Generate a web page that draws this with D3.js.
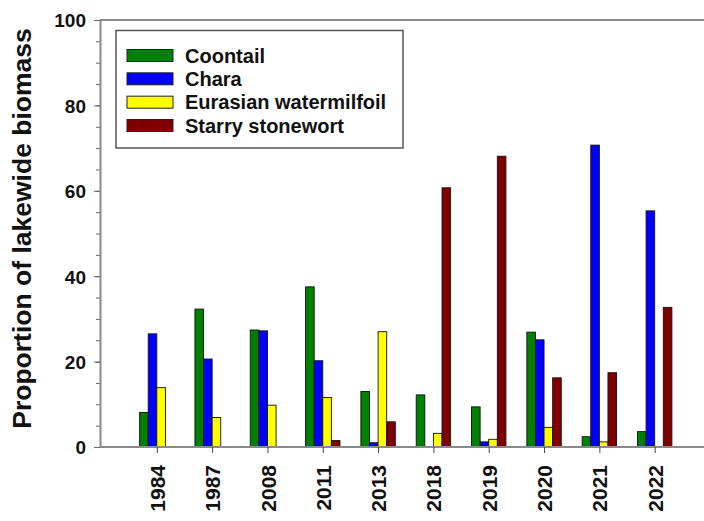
<!DOCTYPE html>
<html>
<head>
<meta charset="utf-8">
<script src="https://cdn.jsdelivr.net/npm/d3@7"></script>
<style>
  html, body { margin: 0; padding: 0; background: #fff; }
  svg { display: block; font-family: "Liberation Sans", Arial, sans-serif; font-weight: bold; }
</style>
</head>
<body>
<svg id="chart" width="704" height="521"></svg>
<script>
// Survey years and the share of lakewide biomass held by each plant
const years = ["1984", "1987", "2008", "2011", "2013", "2018", "2019", "2020", "2021", "2022"];
const seriesNames = ["Coontail", "Chara", "Eurasian watermilfoil", "Starry stonewort"];
const coontail  = [8.1, 32.3, 27.4, 37.5, 13.0, 12.2, 9.4, 26.9, 2.4, 3.6];
const chara     = [26.5, 20.6, 27.2, 20.2, 1.0, 0, 1.2, 25.1, 70.7, 55.3];
const milfoil   = [13.9, 6.9, 9.8, 11.6, 27.0, 3.2, 1.8, 4.6, 1.2, 0];
const stonewort = [0, 0, 0, 1.5, 5.9, 60.7, 68.1, 16.2, 17.4, 32.7];
const seriesColors = ["#008000", "#0000ff", "#ffff00", "#800000"];
const yTicks = [0, 20, 40, 60, 80, 100];

const series = [coontail, chara, milfoil, stonewort];

const svg = d3.select("#chart");

const x = d3.scalePoint().domain(years).range([101.5, 710]).padding(1);
const y = d3.scaleLinear().domain([0, 100]).range([447, 20]);
const barW = 8.6;
const offset = d3.scaleLinear().domain([0, 1]).range([-2 * barW, -barW]);

// Bars
series.forEach((vals, si) => {
  svg.append("g")
    .selectAll("rect")
    .data(vals.map((v, i) => ({ year: years[i], v })).filter(d => d.v > 0))
    .join("rect")
    .attr("x", d => x(d.year) + offset(si))
    .attr("y", d => y(d.v))
    .attr("width", barW)
    .attr("height", d => y(0) - y(d.v))
    .attr("fill", seriesColors[si])
    .attr("stroke", "#111")
    .attr("stroke-width", 0.9);
});

// Frame lines: top border and baseline
svg.append("line")
  .attr("x1", 100).attr("x2", 704).attr("y1", y(100)).attr("y2", y(100))
  .attr("stroke", "#8a8a8a").attr("stroke-width", 2);

// Minor y ticks
const yMinor = svg.append("g").attr("transform", "translate(100,0)")
  .call(d3.axisLeft(y).tickValues(d3.range(0, 101, 5)).tickSize(4).tickFormat(""));
yMinor.select(".domain").remove();
yMinor.selectAll("line").attr("stroke", "#666");

// Major y axis
const yAxis = svg.append("g").attr("transform", "translate(100,0)")
  .call(d3.axisLeft(y).tickValues(yTicks).tickSize(6).tickPadding(8).tickSizeOuter(0));
yAxis.select(".domain").attr("stroke", "#8a8a8a").attr("stroke-width", 2);
yAxis.selectAll("line").attr("stroke", "#666");
yAxis.selectAll("text")
  .attr("font-size", 19).attr("font-family", "Liberation Sans, Arial, sans-serif")
  .attr("font-weight", "bold").attr("fill", "#111").attr("dy", "0.36em");

// X axis with rotated year labels
const xAxis = svg.append("g").attr("transform", `translate(0,${y(0)})`)
  .call(d3.axisBottom(x).tickSize(6).tickSizeOuter(0));
xAxis.select(".domain").attr("d", "M100,0H704").attr("stroke", "#8a8a8a").attr("stroke-width", 2);
xAxis.selectAll("line").attr("stroke", "#444");
xAxis.selectAll("text")
  .attr("font-size", 21).attr("font-family", "Liberation Sans, Arial, sans-serif")
  .attr("font-weight", "bold").attr("fill", "#111")
  .attr("transform", "rotate(-90)")
  .attr("text-anchor", "end")
  .attr("x", -18).attr("y", 0).attr("dy", "0.36em");

// Y axis title
svg.append("text")
  .attr("transform", `translate(31,${(27 + 430) / 2}) rotate(-90)`)
  .attr("text-anchor", "middle")
  .attr("font-size", 26.5)
  .attr("fill", "#111")
  .text("Proportion of lakewide biomass");

// Legend
const legend = svg.append("g");
legend.append("rect")
  .attr("x", 116).attr("y", 30.5).attr("width", 287).attr("height", 117.5)
  .attr("fill", "#fff").attr("stroke", "#555").attr("stroke-width", 1.5);
const ly = d3.scalePoint().domain(seriesNames).range([55.5, 125.5]);
const items = legend.selectAll("g.item").data(seriesNames).join("g").attr("class", "item");
items.append("rect")
  .attr("x", 127).attr("y", d => ly(d) - 6).attr("width", 46).attr("height", 12)
  .attr("fill", (d, i) => seriesColors[i]).attr("stroke", "#222").attr("stroke-width", 1);
items.append("text")
  .attr("x", 185).attr("y", d => ly(d) + 7)
  .attr("font-size", 20).attr("fill", "#111")
  .text(d => d);
</script>
</body>
</html>
